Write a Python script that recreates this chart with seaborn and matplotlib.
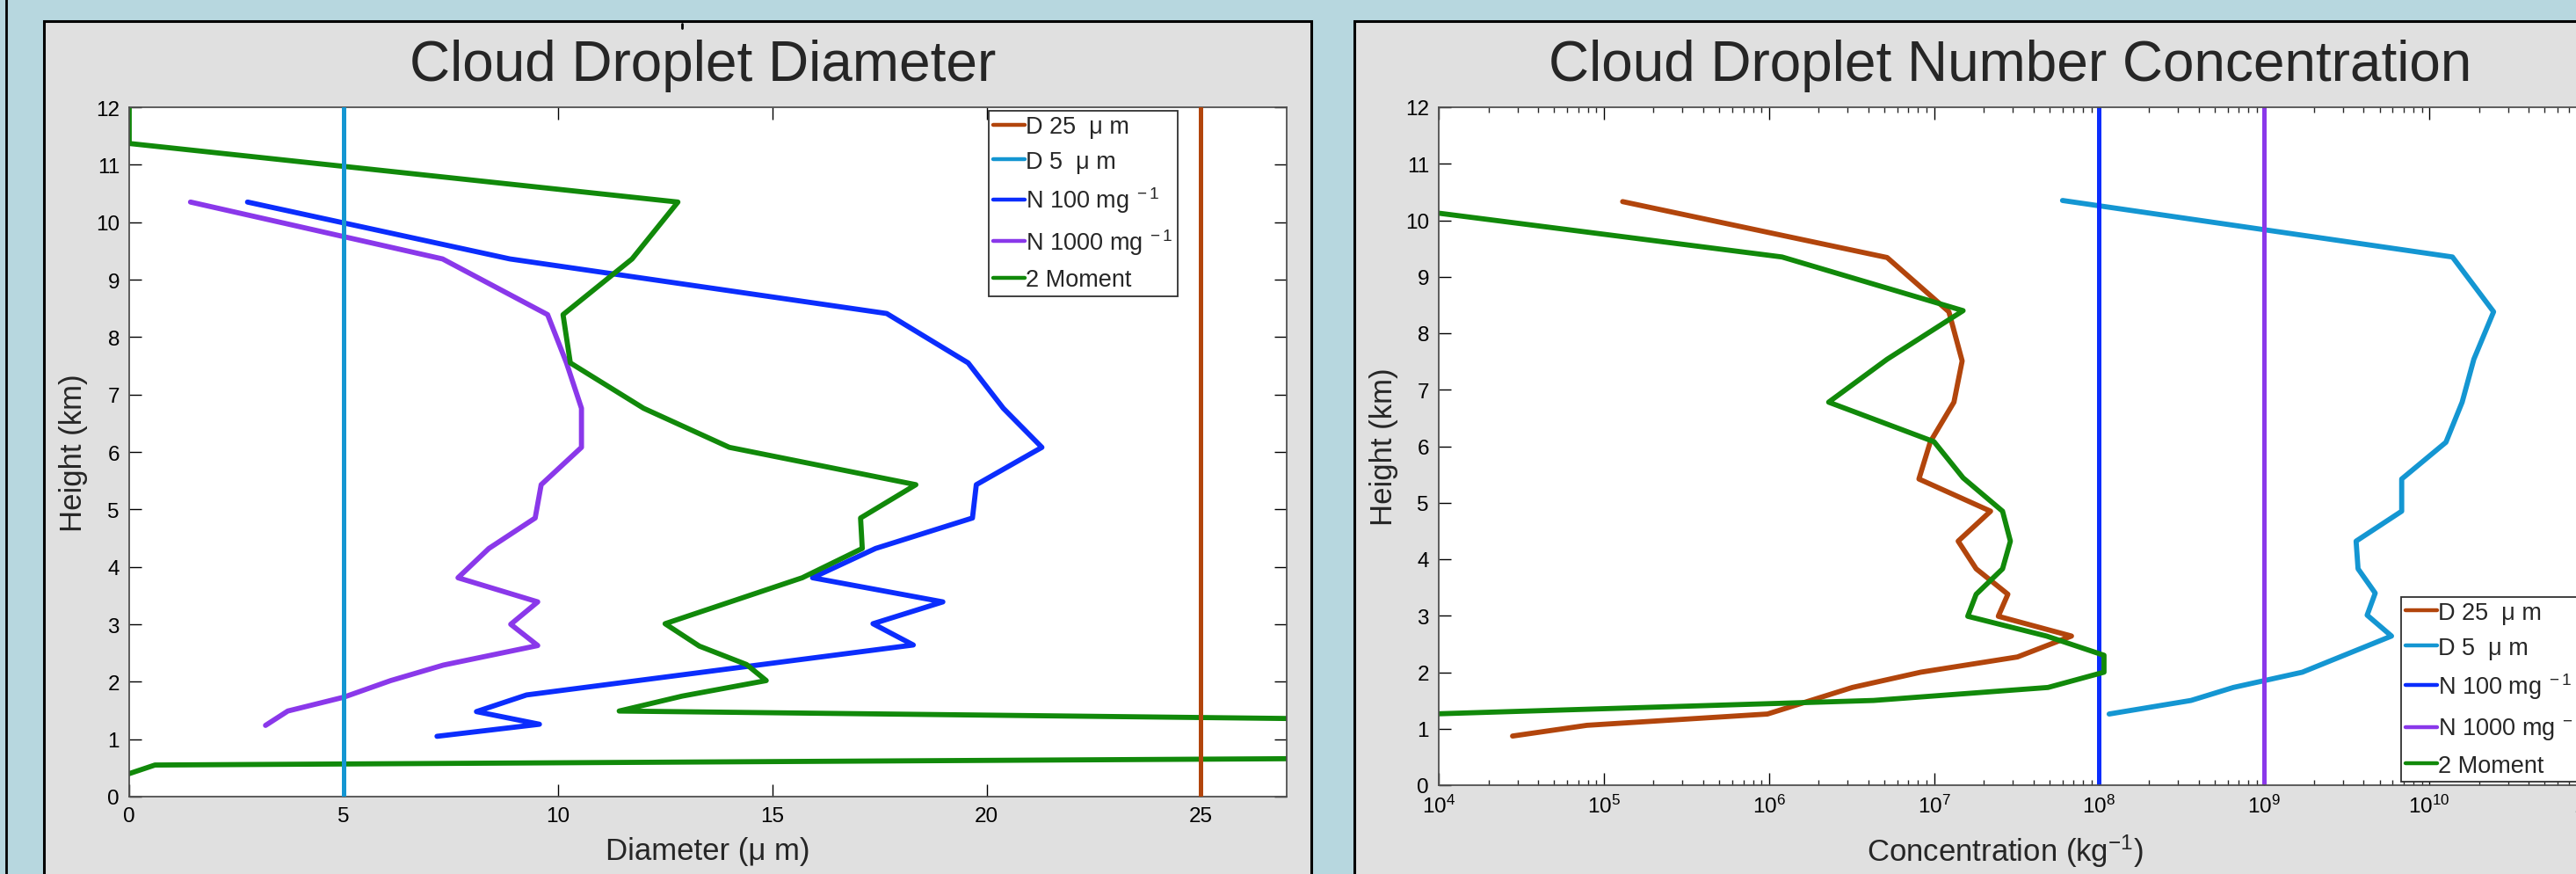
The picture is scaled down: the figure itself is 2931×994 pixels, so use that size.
import matplotlib
matplotlib.use('Agg')
import matplotlib.pyplot as plt
import matplotlib.ticker as mticker
from matplotlib.patches import Rectangle
from matplotlib.lines import Line2D
import seaborn as sns

# fixed-value runs (drawn as vertical reference lines)
D25 = 25.0      # diameter, um
D5 = 5.0        # diameter, um
N100 = 1e8      # concentration, kg^-1
N1000 = 1e9     # concentration, kg^-1

# ---- left panel: cloud droplet diameter (um) vs height (km) ----
n100_diam_z = [10.35, 9.36, 8.41, 7.55, 6.76, 6.08, 5.43, 4.85, 4.32, 3.81,
               3.39, 3.01, 2.64, 1.77, 1.48, 1.26, 1.05]
n100_diam = [2.76, 8.88, 17.67, 19.57, 20.39, 21.29, 19.76, 19.67, 17.41, 15.94,
             18.98, 17.35, 18.29, 9.27, 8.10, 9.57, 7.18]

n1000_diam_z = [10.35, 9.36, 8.39, 7.55, 6.76, 6.08, 5.43, 4.85, 4.32, 3.81,
                3.39, 3.0, 2.63, 2.29, 2.02, 1.73, 1.49, 1.24]
n1000_diam = [1.43, 7.31, 9.76, 10.2, 10.55, 10.55, 9.61, 9.47, 8.39, 7.67,
              9.53, 8.9, 9.53, 7.33, 6.1, 5.0, 3.7, 3.18]

twomom_diam_z = [12.4, 11.37, 10.35, 9.36, 8.39, 7.55, 6.76, 6.08, 5.43, 4.85,
                 4.32, 3.81, 3.01, 2.62, 2.3, 2.02, 1.75, 1.49, 1.26, 1.05,
                 0.86, 0.55, 0.4]
twomom_diam = [0, 0, 12.8, 11.73, 10.12, 10.29, 12.0, 14.0, 18.35, 17.06,
               17.1, 15.7, 12.5, 13.3, 14.4, 14.86, 12.9, 11.43, 39, 60,
               75, 0.6, 0]

# ---- right panel: number concentration (kg^-1) vs height (km) ----
d25_conc_z = [10.33, 9.34, 8.38, 7.51, 6.78, 6.08, 5.42, 4.85, 4.32, 3.83,
              3.38, 2.99, 2.64, 2.27, 2.0, 1.73, 1.26, 1.06, 0.87]
d25_conc = [1.3e5, 5.2e6, 1.23e7, 1.48e7, 1.32e7, 9.5e6, 8.1e6, 2.2e7, 1.4e7, 1.8e7,
            2.8e7, 2.45e7, 6.8e7, 3.2e7, 8.3e6, 3.2e6, 9.8e5, 7.9e4, 2.8e4]

d5_conc_z = [10.35, 9.35, 8.38, 7.54, 6.78, 6.07, 5.42, 4.85, 4.32, 3.83,
             3.40, 3.01, 2.64, 2.0, 1.73, 1.50, 1.26]
d5_conc = [6.0e7, 1.38e10, 2.45e10, 1.86e10, 1.58e10, 1.26e10, 6.8e9, 6.8e9, 3.6e9, 3.7e9,
           4.7e9, 4.2e9, 5.9e9, 1.7e9, 6.5e8, 3.6e8, 1.15e8]

twomom_conc_z = [10.35, 9.35, 8.40, 7.54, 6.78, 6.08, 5.44, 4.85, 4.32, 3.83,
                 3.38, 2.99, 2.64, 2.30, 2.0, 1.73, 1.50, 1.26]
twomom_conc = [2.5e3, 1.2e6, 1.5e7, 5.2e6, 2.3e6, 1.0e7, 1.5e7, 2.6e7, 2.9e7, 2.6e7,
               1.8e7, 1.6e7, 4.8e7, 1.07e8, 1.07e8, 4.9e7, 4.3e6, 9e3]

labels = ['D 25  \u03bc m', 'D 5  \u03bc m', 'N 100 mg$^{\\ -1}$', 'N 1000 mg$^{\\ -1}$', '2 Moment']
colors = ['#b2450c', '#1496d2', '#0b2dfd', '#8a38ea', '#11890a']

sns.set_theme(style='white')
plt.rcParams['font.family'] = ['Liberation Sans', 'DejaVu Sans']
plt.rcParams['mathtext.fontset'] = 'custom'
plt.rcParams['mathtext.rm'] = 'Liberation Sans'
plt.rcParams['mathtext.it'] = 'Liberation Sans:italic'
plt.rcParams['mathtext.bf'] = 'Liberation Sans:bold'

W, H = 2931, 995
fig = plt.figure(figsize=(W / 100, H / 100), dpi=100, facecolor='#b7d7df')

# grey panels behind each plot (they run off the bottom / right edge)
for x0, x1 in [(50, 1492), (1541, 3100)]:
    fig.add_artist(Rectangle((x0 / W, -0.2), (x1 - x0) / W, 1.2 - 25 / H,
                             transform=fig.transFigure, facecolor='#e0e0e0',
                             edgecolor='black', lw=2.2, zorder=-5))
fig.add_artist(Line2D([7 / W, 7 / W], [0, 1], transform=fig.transFigure,
                      color='black', lw=2, zorder=-4))
fig.add_artist(Line2D([776 / W, 776 / W], [1 - 28 / H, 1 - 33 / H],
                      transform=fig.transFigure, color='black', lw=2))

ax1 = fig.add_axes([147 / W, 1 - 907 / H, (1464 - 147) / W, (907 - 123) / H])
ax2 = fig.add_axes([1637 / W, 1 - 894 / H, (2952 - 1637) / W, (894 - 123) / H])

LW = 4.2
VLW = 3.6

# left panel
sns.lineplot(x=n100_diam, y=n100_diam_z, sort=False, estimator=None, ax=ax1,
             color=colors[2], lw=LW, legend=False)
sns.lineplot(x=n1000_diam, y=n1000_diam_z, sort=False, estimator=None, ax=ax1,
             color=colors[3], lw=LW, legend=False)
sns.lineplot(x=twomom_diam, y=twomom_diam_z, sort=False, estimator=None, ax=ax1,
             color=colors[4], lw=LW, legend=False)
ax1.axvline(D25, color=colors[0], lw=VLW, zorder=3)
ax1.axvline(D5, color=colors[1], lw=VLW, zorder=3)
ax1.set_xlim(0, 27)
ax1.set_ylim(0, 12)
ax1.set_xticks(range(0, 26, 5))
ax1.set_yticks(range(0, 13))

# right panel
sns.lineplot(x=d25_conc, y=d25_conc_z, sort=False, estimator=None, ax=ax2,
             color=colors[0], lw=LW, legend=False)
sns.lineplot(x=d5_conc, y=d5_conc_z, sort=False, estimator=None, ax=ax2,
             color=colors[1], lw=LW, legend=False)
ax2.axvline(N100, color=colors[2], lw=VLW)
ax2.axvline(N1000, color=colors[3], lw=VLW)
sns.lineplot(x=twomom_conc, y=twomom_conc_z, sort=False, estimator=None, ax=ax2,
             color=colors[4], lw=LW, legend=False)
ax2.set_xscale('log')
ax2.set_xlim(1e4, 1e11)
ax2.set_ylim(0, 12)
ax2.set_yticks(range(0, 13))
ax2.xaxis.set_major_locator(mticker.LogLocator(base=10, numticks=20))
ax2.xaxis.set_minor_locator(mticker.LogLocator(base=10, subs=range(2, 10), numticks=200))
ax2.xaxis.set_minor_formatter(mticker.NullFormatter())

handles = [Line2D([], [], color=c, lw=3.2) for c in colors]

for ax in (ax1, ax2):
    ax.set_facecolor('white')
    for s in ax.spines.values():
        s.set_color('#505050')
        s.set_linewidth(1.3)
    ax.tick_params(which='major', direction='in', length=10, width=1,
                   top=True, right=True, bottom=True, left=True,
                   labelsize=17.5, colors='black', pad=8)
    ax.tick_params(which='minor', direction='in', length=4.5, width=1,
                   top=True, bottom=True)
    ax.set_ylabel('Height (km)', fontsize=25)

ax1.set_xlabel('Diameter (\u03bc m)', fontsize=25)
ax2.set_xlabel('Concentration (kg$^{-1}$)', fontsize=25)
ax1.yaxis.set_label_coords(-0.0357, 0.5)
ax2.yaxis.set_label_coords(-0.035, 0.5)
ax1.xaxis.set_label_coords(0.5, -0.057)
ax2.xaxis.set_label_coords(0.49, -0.07)

leg_kw = dict(fontsize=19.5, handlelength=1.3, handletextpad=0.06, borderpad=0.2,
              labelspacing=0.5, borderaxespad=0, fancybox=False, framealpha=1,
              edgecolor='#303030')
lg1 = ax1.legend(handles, labels, loc='upper left', bbox_to_anchor=(0.7426, 0.995), **leg_kw)
lg2 = ax2.legend(handles, labels, loc='lower left', bbox_to_anchor=(0.8327, 0.005), **leg_kw)
for lg in (lg1, lg2):
    lg.get_frame().set_linewidth(1.3)

fig.text(800 / W, 1 - 92 / H, 'Cloud Droplet Diameter', fontsize=46,
         ha='center', va='baseline')
fig.text(2287 / W, 1 - 92 / H, 'Cloud Droplet Number Concentration', fontsize=46,
         ha='center', va='baseline')

fig.savefig('out.png', dpi=100, facecolor=fig.get_facecolor())
